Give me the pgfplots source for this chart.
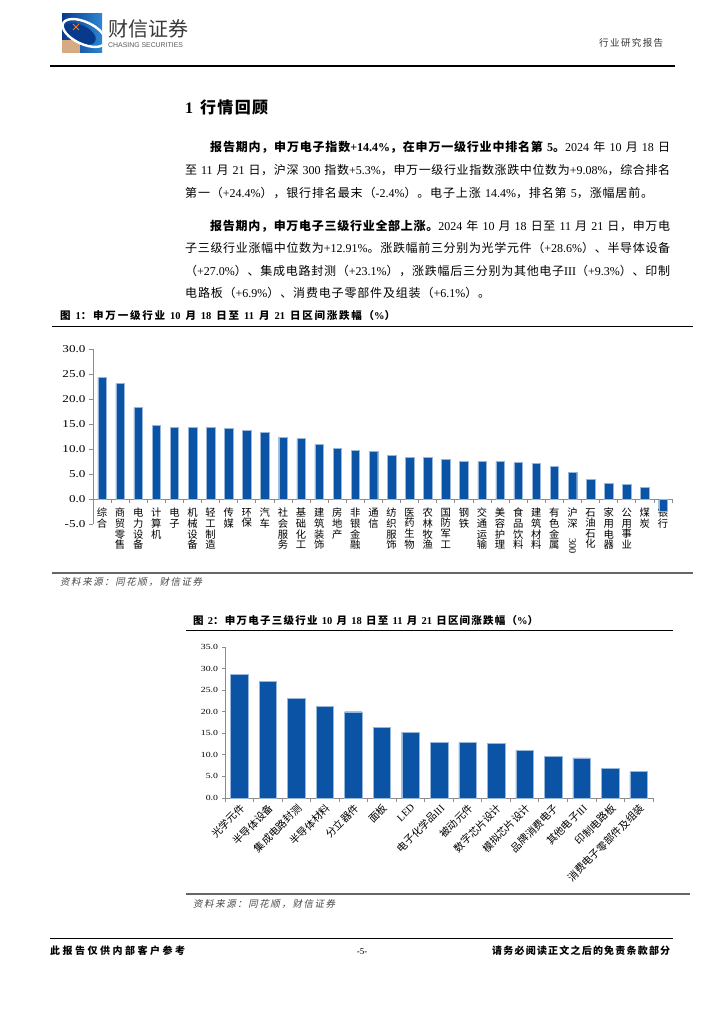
\documentclass[border=0pt]{standalone}
\usepackage{fontspec}
\usepackage{graphicx}
\usepackage{pgfplots}
\pgfplotsset{compat=1.18}
\setmainfont{Liberation Serif}
\newfontfamily\cjk{Noto Sans CJK SC}
\newfontfamily\cjkit{Noto Sans CJK SC}[FakeSlant=0.2]
\newfontfamily\tickfont{Liberation Serif}[FakeStretch=1.25]
\newfontfamily\sans{Liberation Sans}
% automatic CJK font switching
\XeTeXinterchartokenstate=1
\newXeTeXintercharclass\CJKcls
\newcount\cjkc
\def\setcjkrange#1#2{\cjkc=#1\relax\loop\XeTeXcharclass\cjkc=\CJKcls\ifnum\cjkc<#2\advance\cjkc by 1\repeat}
\setcjkrange{"3000}{"303F}
\setcjkrange{"4E00}{"9FFF}
\setcjkrange{"FF00}{"FFEF}
\XeTeXinterchartoks 0 \CJKcls = {\begingroup\cjk}
\XeTeXinterchartoks 4095 \CJKcls = {\begingroup\cjk}
\XeTeXinterchartoks \CJKcls 0 = {\endgroup}
\XeTeXinterchartoks \CJKcls 4095 = {\endgroup}
\XeTeXinterchartoks \CJKcls \CJKcls = {\hskip0pt plus 1pt\relax}
\definecolor{barblue}{RGB}{11,84,165}
\definecolor{baredge}{RGB}{150,182,218}
\definecolor{axgray}{RGB}{140,140,140}
\definecolor{srcgray}{RGB}{70,70,70}
\definecolor{logoD}{RGB}{8,58,140}
\definecolor{logoL}{RGB}{45,135,210}
\definecolor{logotan}{RGB}{214,170,130}
\newcommand\bline[4]{\node[anchor=base west, inner sep=0pt] at (#1pt,-#2pt) {\fontsize{12}{14}\selectfont\makebox[#3pt][s]{#4}};}
\begin{document}
\begin{tikzpicture}
\fill[white] (0,0) rectangle (724pt,-1024pt);
% ---- logo
\begin{scope}
\clip (62pt,-14pt) rectangle (102pt,-53pt);
\shade[left color=logoD, right color=logoL] (62pt,-14pt) rectangle (102pt,-53pt);
\fill[logotan] (62pt,-40pt) rectangle (80pt,-53pt);
\fill[logoD] (80pt,-34pt) ellipse [x radius=17pt, y radius=9pt, rotate=-25];
\draw[white, line width=2.4pt] (84pt,-33pt) ellipse [x radius=23pt, y radius=11pt, rotate=-25];
\draw[orange, line width=1pt] (73pt,-24pt) -- (79pt,-30pt) (73pt,-30pt) -- (79pt,-24pt);
\end{scope}
\node[anchor=base west, inner sep=0pt, text=black!78] at (108pt,-36.5pt) {\fontsize{20}{22}\selectfont 财信证券};
\node[anchor=base west, inner sep=0pt, text=black!65] at (108pt,-48pt) {\sans\fontsize{6.9}{8}\selectfont CHASING SECURITIES};
\node[anchor=base west, inner sep=0pt, text=black!80] at (599pt,-46.5pt) {\fontsize{9.5}{11}\selectfont\makebox[64pt][s]{行业研究报告}};
\draw[line width=1.2pt] (50pt,-66pt) -- (675pt,-66pt);
% ---- section title and text
\node[anchor=base west, inner sep=0pt] at (185pt,-114pt) {\fontsize{16}{18}\selectfont\bfseries\makebox[83pt][s]{1 行情回顾}};
\bline{210}{151.5}{460}{{\bfseries 报告期内，申万电子指数+14.4\%，在申万一级行业中排名第 5。}2024 年 10 月 18 日}
\bline{185}{175}{485}{至 11 月 21 日，沪深 300 指数+5.3\%，申万一级行业指数涨跌中位数为+9.08\%，综合排名}
\bline{185}{198}{468}{第一（+24.4\%），银行排名最末（-2.4\%）。电子上涨 14.4\%，排名第 5，涨幅居前。}
\bline{210}{230.5}{460}{{\bfseries 报告期内，申万电子三级行业全部上涨。}2024 年 10 月 18 日至 11 月 21 日，申万电}
\bline{185}{252.5}{485}{子三级行业涨幅中位数为+12.91\%。涨跌幅前三分别为光学元件（+28.6\%）、半导体设备}
\bline{185}{275}{485}{（+27.0\%）、集成电路封测（+23.1\%），涨跌幅后三分别为其他电子III（+9.3\%）、印制}
\bline{185}{297.5}{305}{电路板（+6.9\%）、消费电子零部件及组装（+6.1\%）。}
% ---- chart 1 frame
\node[anchor=base west, inner sep=0pt] at (60pt,-319pt) {\fontsize{10.5}{12}\selectfont\bfseries\makebox[335pt][s]{图 1：申万一级行业 10 月 18 日至 11 月 21 日区间涨跌幅（\%）}};
\draw[line width=1pt] (52pt,-326pt) -- (693pt,-326pt);
\draw[line width=1.4pt, black!60] (52pt,-573pt) -- (693pt,-573pt);
\node[anchor=base west, inner sep=0pt, text=srcgray] at (60pt,-585.5pt) {\let\cjk\cjkit\fontsize{9.5}{11}\selectfont\makebox[142pt][s]{资料来源：同花顺，财信证券}};
\begin{axis}[name=ax1, at={(93pt,-524pt)}, anchor=south west, scale only axis,
  width=579pt, height=175pt,
  xmin=-0.5, xmax=31.5, ymin=-5, ymax=30,
  axis x line*=middle, axis y line*=left,
  axis line style={draw=axgray, line width=0.8pt},
  xtick={0,...,31},
  xticklabels={{综\\合},{商\\贸\\零\\售},{电\\力\\设\\备},{计\\算\\机},{电\\子},{机\\械\\设\\备},{轻\\工\\制\\造},{传\\媒},{环\\保},{汽\\车},{社\\会\\服\\务},{基\\础\\化\\工},{建\\筑\\装\\饰},{房\\地\\产},{非\\银\\金\\融},{通\\信},{纺\\织\\服\\饰},{医\\药\\生\\物},{农\\林\\牧\\渔},{国\\防\\军\\工},{钢\\铁},{交\\通\\运\\输},{美\\容\\护\\理},{食\\品\\饮\\料},{建\\筑\\材\\料},{有\\色\\金\\属},{沪\\深\\\rotatebox{-90}{300}},{石\\油\\石\\化},{家\\用\\电\\器},{公\\用\\事\\业},{煤\\炭},{银\\行}},
  minor xtick={-0.5,0.5,...,31.5},
  ytick={-5,0,...,30},
  tick align=outside,
  major tick length=4pt, minor tick length=4pt,
  major x tick style={draw=none},
  minor x tick style={draw=axgray, line width=0.8pt},
  major y tick style={draw=axgray, line width=0.8pt},
  yticklabel style={font=\fontsize{10.5}{12}\tickfont, text=black},
  xticklabel style={font=\fontsize{10.3}{10.6}\selectfont, align=center, anchor=north, inner sep=0pt, yshift=-5pt},
  /pgf/number format/fixed, /pgf/number format/fixed zerofill,
  /pgf/number format/precision=1, /pgf/number format/assume math mode=true,
]
\addplot[ybar, bar width=8.5pt, fill=barblue, draw=baredge, line width=0.4pt] coordinates {
(0,24.4) (1,23.1) (2,18.3) (3,14.7) (4,14.4) (5,14.4) (6,14.4) (7,14.1)
(8,13.7) (9,13.3) (10,12.4) (11,12.1) (12,10.9) (13,10.1) (14,9.7) (15,9.5)
(16,8.8) (17,8.4) (18,8.4) (19,7.9) (20,7.5) (21,7.5) (22,7.5) (23,7.3)
(24,7.1) (25,6.6) (26,5.3) (27,3.9) (28,3.1) (29,2.9) (30,2.4) (31,-2.4)};
\end{axis}
% ---- chart 2 frame
\node[anchor=base west, inner sep=0pt] at (193pt,-624pt) {\fontsize{10.5}{12}\selectfont\bfseries\makebox[345pt][s]{图 2：申万电子三级行业 10 月 18 日至 11 月 21 日区间涨跌幅（\%）}};
\draw[line width=1pt] (186pt,-630pt) -- (673pt,-630pt);
\draw[line width=1.4pt, black!60] (186pt,-894pt) -- (690pt,-894pt);
\node[anchor=base west, inner sep=0pt, text=srcgray] at (193pt,-907.5pt) {\let\cjk\cjkit\fontsize{9.5}{11}\selectfont\makebox[142pt][s]{资料来源：同花顺，财信证券}};
\begin{axis}[name=ax2, at={(225pt,-798pt)}, anchor=south west, scale only axis,
  width=428pt, height=151pt,
  xmin=-0.5, xmax=14.5, ymin=0, ymax=35,
  axis x line*=bottom, axis y line*=left,
  axis line style={draw=axgray, line width=0.8pt},
  xtick={0,...,14},
  xticklabels={光学元件,半导体设备,集成电路封测,半导体材料,分立器件,面板,LED,电子化学品III,被动元件,数字芯片设计,模拟芯片设计,品牌消费电子,其他电子III,印制电路板,消费电子零部件及组装},
  minor xtick={-0.5,0.5,...,14.5},
  ytick={0,5,...,35},
  tick align=outside,
  major tick length=3.5pt, minor tick length=3.5pt,
  major x tick style={draw=none},
  minor x tick style={draw=axgray, line width=0.8pt},
  major y tick style={draw=axgray, line width=0.8pt},
  yticklabel style={font=\fontsize{7.8}{9}\tickfont, text=black},
  xticklabel style={font=\fontsize{10.3}{12}\selectfont, rotate=45, anchor=north east, inner sep=1pt},
  /pgf/number format/fixed, /pgf/number format/fixed zerofill,
  /pgf/number format/precision=1, /pgf/number format/assume math mode=true,
]
\addplot[ybar, bar width=17.5pt, fill=barblue, draw=baredge, line width=0.4pt] coordinates {
(0,28.6) (1,27.0) (2,23.1) (3,21.2) (4,20.0) (5,16.4) (6,15.3) (7,12.9)
(8,12.9) (9,12.7) (10,11.1) (11,9.7) (12,9.3) (13,6.9) (14,6.1)};
\end{axis}
% ---- footer
\draw[line width=0.8pt] (50pt,-938pt) -- (673pt,-938pt);
\node[anchor=base west, inner sep=0pt] at (50pt,-954pt) {\fontsize{10}{12}\selectfont\bfseries\makebox[135pt][s]{此报告仅供内部客户参考}};
\node[anchor=base, inner sep=0pt] at (362pt,-954pt) {\fontsize{9}{11}\selectfont -5-};
\node[anchor=base west, inner sep=0pt] at (492pt,-954pt) {\fontsize{10}{12}\selectfont\bfseries\makebox[178pt][s]{请务必阅读正文之后的免责条款部分}};
\pgfresetboundingbox
\path (0,0) rectangle (724pt,-1024pt);
\end{tikzpicture}
\end{document}
